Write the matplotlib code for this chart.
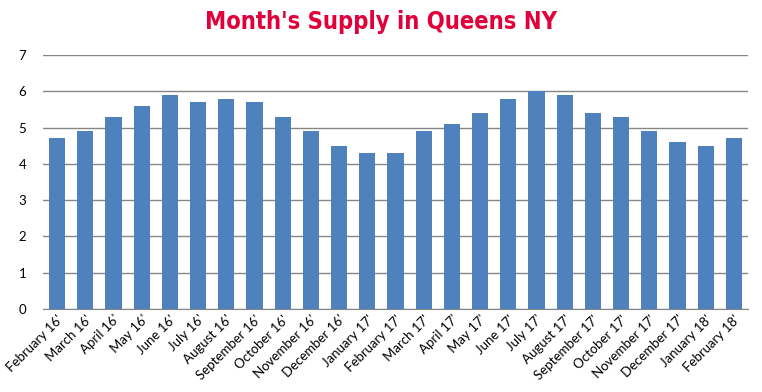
import matplotlib
matplotlib.use("Agg")
from matplotlib import pyplot as plt

months = ["February 16'", "March 16'", "April 16'", "May 16'", "June 16'", "July 16'",
          "August 16'", "September 16'", "October 16'", "November 16'", "December 16'",
          "January 17'", "February 17'", "March 17'", "April 17'", "May 17'", "June 17'",
          "July 17'", "August 17'", "September 17'", "October 17'", "November 17'",
          "December 17'", "January 18'", "February 18'"]
supply = [4.7, 4.9, 5.3, 5.6, 5.9, 5.7, 5.8, 5.7, 5.3, 4.9, 4.5, 4.3, 4.3,
          4.9, 5.1, 5.4, 5.8, 6.0, 5.9, 5.4, 5.3, 4.9, 4.6, 4.5, 4.7]

fig = plt.figure(figsize=(7.62, 3.92), dpi=100)
ax = fig.add_axes([0.0564, 0.2117, 0.9252, 0.648])

x = range(len(months))
ax.bar(x, supply, width=0.57, color="#4F81BD", zorder=3)

ax.set_xlim(-0.5, len(months) - 0.5)
ax.set_ylim(0, 7)
ax.set_yticks(range(0, 8))
ax.yaxis.grid(True, color="#868686", linewidth=1, zorder=0)
for s in ["top", "right", "left"]:
    ax.spines[s].set_visible(False)
ax.spines["bottom"].set_color("#868686")
ax.tick_params(axis="both", length=0, labelsize=9.5)
ax.tick_params(axis="y", pad=12)
ax.tick_params(axis="x", pad=3)
ax.set_xticks(list(x))
ax.set_xticklabels(months, rotation=45, ha="right", rotation_mode="anchor", fontfamily="Lato")
for lab in ax.get_yticklabels():
    lab.set_fontfamily("Lato")

fig.text(0.5, 0.943, "Month's Supply in Queens NY", ha="center", va="center",
         fontsize=17, fontweight="bold", fontstretch="condensed", color="#E2003B",
         fontfamily="DejaVu Sans")

fig.savefig("out.png", dpi=100)
